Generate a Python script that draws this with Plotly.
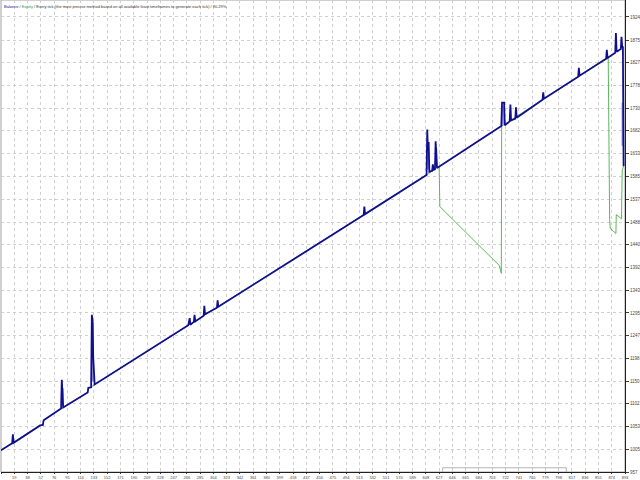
import plotly.graph_objects as go

# Balance (blue) path: trade number vs balance, includes spikes
bal_x = [0, 16, 17, 18, 56, 60, 61, 86, 87, 88, 89, 124, 125, 129, 130, 131, 132, 133, 134,
         268, 270, 271, 276, 277, 278, 290, 291, 292, 309, 310, 311, 519, 520, 521,
         609, 610, 611, 612, 613, 617, 618, 619, 621, 622, 623, 624,
         716, 717, 720, 721, 728, 729, 730, 736, 737, 738, 775, 776, 777,
         826, 827, 828, 866, 867, 868, 879, 880, 881, 887, 888, 889, 890, 891]
bal_y = [1003, 1018, 1037, 1019, 1056, 1057, 1067, 1092, 1153, 1120, 1094, 1126, 1136, 1137, 1291, 1280, 1200, 1150, 1143,
         1269, 1284, 1270, 1276, 1291, 1277, 1289, 1310, 1292, 1306, 1322, 1308, 1503, 1521, 1505,
         1588, 1685, 1640, 1658, 1595, 1597, 1611, 1599, 1600, 1660, 1630, 1603,
         1692, 1742, 1742, 1694, 1702, 1738, 1704, 1708, 1732, 1710, 1748, 1764, 1750,
         1797, 1816, 1799, 1835, 1854, 1837, 1848, 1890, 1850, 1856, 1882, 1860, 1860, 1607]

# Light (lavender) parts of the spikes
lav_x = [131.5, 131.5, None, 88.5, 88.5, None, 611, 611, None, 623, 623, None,
         718, 718, None, 889.5, 889.5]
lav_y = [1150, 1275, None, 1100, 1135, None, 1600, 1655, None, 1605, 1645, None,
         1695, 1735, None, 1650, 1742]

# Equity (green) path
eq_x = [0, 56, 60, 61, 86, 89, 124, 125, 129, 134, 609, 627, 628, 713, 716, 716.5,
        869, 870, 871, 872, 880, 880.5, 888, 889, 891]
eq_y = [1003, 1056, 1057, 1067, 1092, 1094, 1126, 1136, 1137, 1143, 1588, 1607, 1521, 1396, 1379, 1692,
        1839, 1565, 1493, 1474, 1464, 1504, 1495, 1597, 1607]

# Lot size box at the bottom
lot_x = [632, 632, 809, 809]
lot_y = [957, 966, 966, 957]

y_ticks = [957, 1005, 1053, 1102, 1150, 1198, 1247, 1295, 1343, 1392, 1440, 1488,
           1537, 1585, 1633, 1682, 1730, 1778, 1827, 1875, 1924]
x_ticks = [0, 19, 38, 57, 76, 95, 114, 133, 152, 171, 190, 209, 228, 247, 266, 285,
           304, 323, 342, 361, 380, 399, 418, 437, 456, 475, 494, 513, 532, 551, 570,
           589, 608, 627, 646, 665, 684, 703, 722, 741, 760, 779, 798, 817, 836, 855,
           874, 893]

BLUE = "#10108f"
LAV = "#9c9cdc"
GREEN = "#5cb85c"

fig = go.Figure()
fig.add_trace(go.Scatter(x=lot_x, y=lot_y, mode="lines",
                         line=dict(color="#b4b4b4", width=1), hoverinfo="skip"))
fig.add_trace(go.Scatter(x=eq_x, y=eq_y, mode="lines",
                         line=dict(color=GREEN, width=1), name="Equity"))
fig.add_trace(go.Scatter(x=lav_x, y=lav_y, mode="lines", connectgaps=False,
                         line=dict(color=LAV, width=2), hoverinfo="skip"))
fig.add_trace(go.Scatter(x=bal_x, y=bal_y, mode="lines",
                         line=dict(color=BLUE, width=1.8), name="Balance"))

fig.update_layout(
    width=640, height=480,
    margin=dict(l=1, r=14, t=0, b=5),
    paper_bgcolor="white", plot_bgcolor="white",
    showlegend=False,
    font=dict(family="Liberation Sans, Arial", size=4, color="#333333"),
    xaxis=dict(range=[0, 893], tickvals=x_ticks, ticktext=[str(v) for v in x_ticks],
               showgrid=True, gridcolor="#cfcfcf", griddash="3px,3px", gridwidth=1,
               showline=True, linecolor="#202020", linewidth=1,
               ticks="outside", ticklen=1, tickcolor="#404040",
               tickfont=dict(size=4, color="#444444"), zeroline=False),
    yaxis=dict(range=[957, 1960], side="right", tickvals=y_ticks,
               ticktext=[str(v) for v in y_ticks],
               showgrid=True, gridcolor="#cfcfcf", griddash="3px,3px", gridwidth=1,
               showline=True, linecolor="#202020", linewidth=1,
               ticks="outside", ticklen=3, tickcolor="#404040",
               tickfont=dict(size=4.5, color="#444444"), zeroline=False),
)

fig.add_shape(type="rect", xref="paper", yref="paper", x0=0, x1=1, y0=0, y1=1,
              line=dict(color="#a0a0a0", width=1), layer="below")

fig.add_annotation(
    xref="paper", yref="paper", x=0.002, y=0.995, xanchor="left", yanchor="top",
    showarrow=False, align="left",
    text=("<span style='color:#10108f'>Balance</span> / "
          "<span style='color:#3a9a3a'>Equity</span> / "
          "Every tick (the most precise method based on all available least timeframes "
          "to generate each tick) / 90.29%"),
    font=dict(size=4, color="#333333", family="Liberation Sans, Arial"),
)

fig.write_html("out.html", config={"displayModeBar": False},
               post_script="document.body.style.margin='0px';document.body.style.overflow='hidden';")
